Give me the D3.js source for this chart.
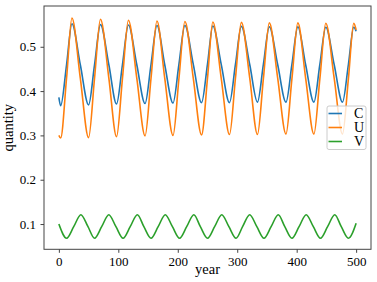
<!DOCTYPE html>
<html>
<head>
<meta charset="utf-8">
<script src="https://cdn.jsdelivr.net/npm/d3@7"></script>
<style>
  body { margin: 0; background: #fff; }
  svg { display: block; font-family: "Liberation Serif", "Times New Roman", serif; }
</style>
</head>
<body>
<div id="chart"></div>
<script>
// years shared by C and U (start, troughs, mids, peaks)
const years = [0, 3, 13, 22, 36, 50, 60, 70, 84, 97, 107, 117, 131, 145, 155, 165,
  178, 192, 202, 212, 226, 240, 250, 259, 273, 287, 297, 307, 321, 334, 344, 354,
  368, 382, 392, 402, 415, 429, 439, 449, 463, 477, 487, 496, 500];

const cValues = [0.386, 0.367, 0.460, 0.552, 0.460, 0.369, 0.459, 0.550,
  0.460, 0.371, 0.460, 0.549, 0.460, 0.372, 0.460, 0.548,
  0.460, 0.373, 0.461, 0.548, 0.461, 0.374, 0.461, 0.547,
  0.461, 0.374, 0.460, 0.546, 0.460, 0.375, 0.460, 0.545,
  0.460, 0.375, 0.460, 0.545, 0.460, 0.375, 0.460, 0.544,
  0.460, 0.375, 0.460, 0.544, 0.535];

const uValues = [0.300, 0.294, 0.430, 0.565, 0.430, 0.295, 0.429, 0.562,
  0.430, 0.297, 0.429, 0.560, 0.430, 0.299, 0.429, 0.558,
  0.430, 0.300, 0.429, 0.557, 0.430, 0.301, 0.429, 0.556,
  0.430, 0.302, 0.429, 0.555, 0.430, 0.302, 0.428, 0.554,
  0.430, 0.303, 0.428, 0.554, 0.430, 0.303, 0.428, 0.553,
  0.430, 0.303, 0.428, 0.553, 0.538];

const vYears = [0, 13, 25, 37, 49, 60, 72, 84, 96, 108, 120, 132, 143, 155, 167, 179,
  191, 203, 215, 227, 238, 250, 262, 274, 286, 298, 309, 321, 333, 345, 357, 369,
  380, 392, 404, 416, 428, 440, 452, 464, 475, 487, 500];

const vValues = [0.100, 0.068, 0.094, 0.121, 0.094, 0.068, 0.094, 0.121,
  0.094, 0.068, 0.094, 0.121, 0.094, 0.068, 0.094, 0.121,
  0.094, 0.068, 0.094, 0.121, 0.094, 0.068, 0.094, 0.121,
  0.094, 0.068, 0.094, 0.121, 0.094, 0.068, 0.094, 0.121,
  0.094, 0.068, 0.094, 0.121, 0.094, 0.068, 0.094, 0.121,
  0.094, 0.068, 0.102];

const seriesNames = ["C", "U", "V"];
const seriesColors = ["#1f77b4", "#ff7f0e", "#2ca02c"];
const xTicks = [0, 100, 200, 300, 400, 500];
const yTicks = [0.1, 0.2, 0.3, 0.4, 0.5];

const W = 377, H = 282;
const margin = { top: 6, right: 6, bottom: 32.7, left: 44 };
const width = W - margin.left - margin.right;
const height = H - margin.top - margin.bottom;

const svg = d3.select("#chart").append("svg")
  .attr("width", W)
  .attr("height", H);

const g = svg.append("g").attr("transform", `translate(${margin.left},${margin.top})`);

const x = d3.scaleLinear().domain([-25, 525]).range([0, width]);
const y = d3.scaleLinear().domain([0.043, 0.592]).range([height, 0]);

const series = [
  years.map((t, i) => [t, cValues[i]]),
  years.map((t, i) => [t, uValues[i]]),
  vYears.map((t, i) => [t, vValues[i]])
];

const line = d3.line()
  .x(d => x(d[0]))
  .y(d => y(d[1]))
  .curve(d3.curveMonotoneX);

g.selectAll("path.series")
  .data(series)
  .enter().append("path")
  .attr("class", "series")
  .attr("fill", "none")
  .attr("stroke", (d, i) => seriesColors[i])
  .attr("stroke-width", 1.6)
  .attr("d", line);

// axes
const xAxis = g.append("g")
  .attr("transform", `translate(0,${height})`)
  .call(d3.axisBottom(x).tickValues(xTicks).tickSize(3.5).tickPadding(4).tickSizeOuter(0));
const yAxis = g.append("g")
  .call(d3.axisLeft(y).tickValues(yTicks).tickFormat(d3.format(".1f")).tickSize(3.5).tickPadding(4.5).tickSizeOuter(0));

[xAxis, yAxis].forEach(a => {
  a.select(".domain").remove();
  a.selectAll("line").attr("stroke", "#444");
  a.selectAll("text")
    .attr("fill", "#000")
    .style("font-family", "\"Liberation Serif\", \"Times New Roman\", serif")
    .style("font-size", "13px");
});

// frame
g.append("rect")
  .attr("width", width)
  .attr("height", height)
  .attr("fill", "none")
  .attr("stroke", "#444")
  .attr("stroke-width", 1);

// axis labels
svg.append("text")
  .attr("x", margin.left + width / 2)
  .attr("y", 274)
  .attr("text-anchor", "middle")
  .attr("font-size", "14.5px")
  .text("year");

svg.append("text")
  .attr("transform", `translate(13,${margin.top + height / 2}) rotate(-90)`)
  .attr("text-anchor", "middle")
  .attr("font-size", "14.5px")
  .text("quantity");

// legend
const legend = svg.append("g").attr("transform", "translate(327,106)");
legend.append("rect")
  .attr("width", 39)
  .attr("height", 43.5)
  .attr("rx", 2)
  .attr("fill", "#fff")
  .attr("fill-opacity", 0.8)
  .attr("stroke", "#ccc")
  .attr("stroke-width", 1);

const item = legend.selectAll("g.item")
  .data(seriesNames)
  .enter().append("g")
  .attr("class", "item")
  .attr("transform", (d, i) => `translate(0,${7.5 + i * 14})`);

item.append("line")
  .attr("x1", 1.5)
  .attr("x2", 15)
  .attr("stroke", (d, i) => seriesColors[i])
  .attr("stroke-width", 1.6);

item.append("text")
  .attr("x", 27)
  .attr("dy", "0.33em")
  .attr("font-size", "14px")
  .text(d => d);
</script>
</body>
</html>
